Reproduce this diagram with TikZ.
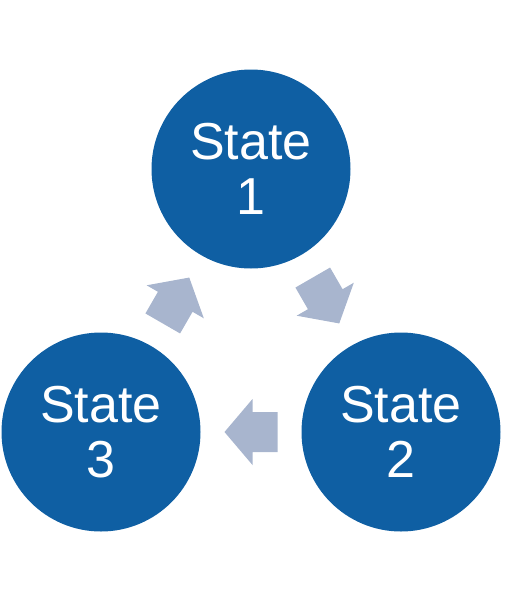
\documentclass[tikz,border=0pt]{standalone}
\usepackage{fontspec}
\setmainfont{Liberation Sans}
\usetikzlibrary{calc}
\definecolor{stateblue}{HTML}{0F5FA3}
\definecolor{arrowgray}{HTML}{A8B5CE}
\tikzset{
  statenode/.style={circle, fill=stateblue, text=white, minimum size=199pt, inner sep=0pt,
    align=center, font=\fontsize{52}{55}\selectfont},
  blockarrow/.pic={\fill[arrowgray] (-26.5,20) -- (-1.5,20) -- (-1.5,33) -- (26.5,0)
    -- (-1.5,-33) -- (-1.5,-20) -- (-26.5,-20) -- cycle;}
}
\begin{document}
\begin{tikzpicture}[x=1pt,y=-1pt]
\useasboundingbox (0,0) rectangle (511,603);
\node[statenode] (s1) at (251,169) {State\\1};
\node[statenode] (s2) at (401,432) {State\\2};
\node[statenode] (s3) at (101,432) {State\\3};
\coordinate (m12) at ($(s1)!0.5!(s2)$);
\coordinate (m23) at ($(s2)!0.5!(s3)$);
\coordinate (m31) at ($(s3)!0.5!(s1)$);
\pic[rotate=-60] at (m12) {blockarrow};
\pic[rotate=180] at (m23) {blockarrow};
\pic[rotate=60] at (m31) {blockarrow};
\end{tikzpicture}
\end{document}
